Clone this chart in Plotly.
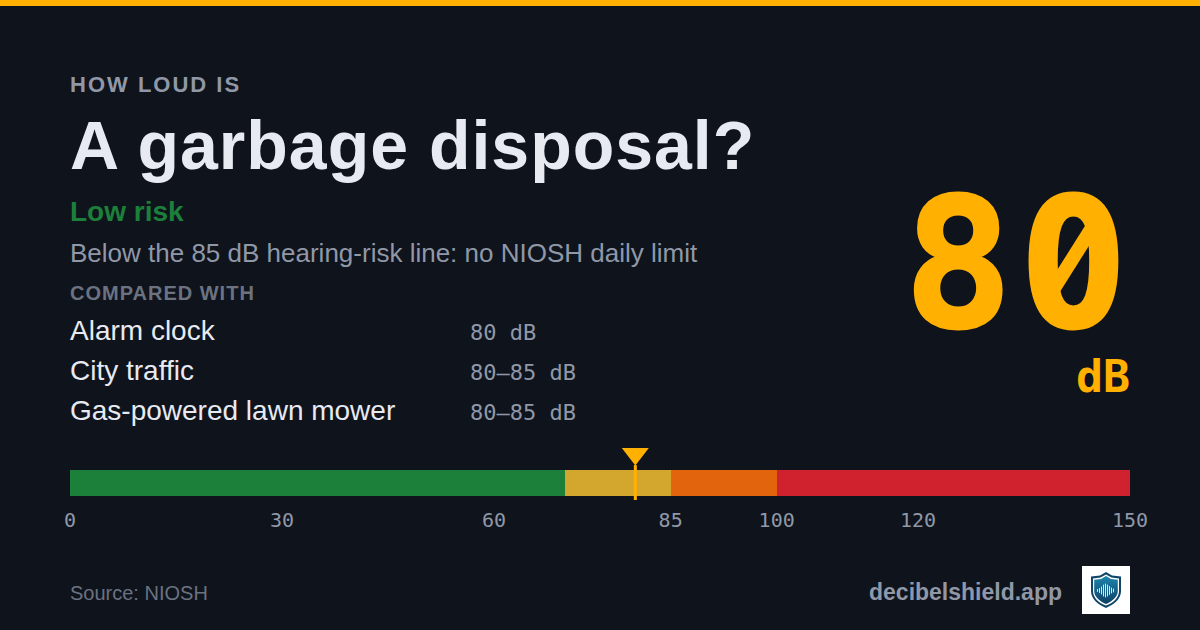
import base64

import plotly.graph_objects as go

# risk bands on the dB scale
band_names = ['Low', 'Moderate', 'High', 'Dangerous']
band_widths = [70, 15, 15, 50]
band_colors = ['#1c7f3a', '#d3a62d', '#e2640c', '#cf222e']

tick_vals = [0, 30, 60, 85, 100, 120, 150]
tick_text = ['0', '30', '60', '85', '100', '120', '150']

measured_db = 80

compare_names = ['Alarm clock', 'City traffic', 'Gas-powered lawn mower']
compare_vals = ['80 dB', '80–85 dB', '80–85 dB']

BG = '#0f131c'
AMBER = '#ffb000'
GREY = '#9098a8'
SANS = 'Liberation Sans'
MONO = 'DejaVu Sans Mono'

W, H = 1200, 630
LEFT, RIGHT, TOP, BOTTOM = 70, 1130, 444, 500


def px(x):
    return (x - LEFT) / (RIGHT - LEFT)


def py(y):
    return (BOTTOM - y) / (BOTTOM - TOP)


def label(x, y, text, size, color, font=SANS, bold=False, anchor='left'):
    return dict(x=px(x), y=py(y), xref='paper', yref='paper', text=f'<b>{text}</b>' if bold else text,
                showarrow=False, xanchor=anchor, yanchor='middle', borderpad=0, borderwidth=0,
                font=dict(family=font, size=size, color=color))


fig = go.Figure()

for name, width, color in zip(band_names, band_widths, band_colors):
    fig.add_trace(go.Bar(x=[width], y=[0.5], name=name, orientation='h', width=1,
                         marker=dict(color=color, line=dict(width=0)), hoverinfo='skip'))

# needle through the bar and the triangle above it
fig.add_trace(go.Scatter(x=[measured_db, measured_db], y=[-0.154, 1.19], mode='lines',
                         line=dict(color=AMBER, width=3), hoverinfo='skip'))
fig.add_trace(go.Scatter(x=[measured_db], y=[1.62], mode='markers', cliponaxis=False,
                         marker=dict(symbol='triangle-down', size=23.4, color=AMBER, line=dict(width=0)),
                         hoverinfo='skip'))

annotations = [
    label(70, 84, 'HOW LOUD IS', 22, GREY, bold=True),
    label(70, 145, 'A garbage disposal?', 68, '#e8eaf2', bold=True),
    label(70, 212, 'Low risk', 28, '#1c7f3a', bold=True),
    label(70, 253, 'Below the 85 dB hearing-risk line: no NIOSH daily limit', 26, GREY),
    label(70, 293, 'COMPARED WITH', 20, '#6b7280', bold=True),
    label(1135, 263, str(measured_db), 180, AMBER, font=MONO, bold=True, anchor='right'),
    label(1130, 376, 'dB', 45, AMBER, font=MONO, bold=True, anchor='right'),
    label(70, 593, 'Source: NIOSH', 20, '#6b7280'),
    label(1062, 592, 'decibelshield.app', 23, GREY, bold=True, anchor='right'),
]
for i, (name, val) in enumerate(zip(compare_names, compare_vals)):
    row_y = 330 + i * 40
    annotations.append(label(70, row_y, name, 28, '#e8eaf2'))
    annotations.append(label(470, row_y + 2, val, 22, GREY, font=MONO))

logo_svg = '''<svg xmlns="http://www.w3.org/2000/svg" width="96" height="96" viewBox="0 0 48 48">
<defs><linearGradient id="g" x1="0" y1="0" x2="0" y2="1">
<stop offset="0" stop-color="#1f86ad"/><stop offset="1" stop-color="#0c3f66"/></linearGradient></defs>
<rect width="48" height="48" fill="#ffffff"/>
<path d="M24 6 L30 9.5 L39 10.5 L39 25 C39 33 32 38.5 24 42 C16 38.5 9 33 9 25 L9 10.5 L18 9.5 Z" fill="#0f4668"/>
<path d="M24 8.5 L29.5 11.5 L37 12.5 L37 25 C37 32 31 37 24 39.5 C17 37 11 32 11 25 L11 12.5 L18.5 11.5 Z" fill="#ffffff"/>
<path d="M24 10 L29 13 L35.8 13.8 L35.8 25 C35.8 31 30 35.5 24 38 C18 35.5 12.2 31 12.2 25 L12.2 13.8 L19 13 Z" fill="url(#g)"/>
<g stroke="#d5e8f0" stroke-width="1" stroke-linecap="round">
<path d="M15.5 23.5v2M17.5 22.5v4M19.5 21v7M21.5 19v11M23.5 18v13M25.5 19v11M27.5 20.5v8M29.5 22v5M31.5 23v3"/>
</g></svg>'''
logo_uri = 'data:image/svg+xml;base64,' + base64.b64encode(logo_svg.encode()).decode()

fig.update_layout(
    width=W, height=H,
    barmode='stack',
    showlegend=False,
    paper_bgcolor=BG,
    plot_bgcolor=BG,
    hovermode=False,
    margin=dict(l=LEFT, r=W - RIGHT, t=TOP, b=H - BOTTOM, autoexpand=False),
    xaxis=dict(range=[0, 150], tickmode='array', tickvals=tick_vals, ticktext=tick_text, ticks='',
               showgrid=False, zeroline=False, showline=False, ticklabelstandoff=6,
               tickfont=dict(family=MONO, size=20, color=GREY), fixedrange=True),
    yaxis=dict(range=[-0.154, 2], visible=False, fixedrange=True),
    annotations=annotations,
    shapes=[dict(type='rect', xref='paper', yref='paper', x0=px(0), x1=px(W), y0=py(0), y1=py(6),
                 fillcolor=AMBER, line=dict(width=0), layer='above')],
    images=[dict(source=logo_uri, xref='paper', yref='paper', x=px(1082), y=py(566),
                 sizex=px(1130) - px(1082), sizey=py(566) - py(614), xanchor='left', yanchor='top',
                 sizing='stretch', layer='above')],
)

# letter spacing is not a plotly font option, so set it on the drawn text: [annotation index, px, keep right edge]
# the big zero is dotted in DejaVu, the reference has it slashed, so the dot gets painted over
post_script = '''
document.documentElement.style.overflow = 'hidden';
document.body.style.margin = '0';
document.body.style.background = '%s';
[[0, 2, false], [1, 1, false], [4, 1, false], [5, 7, true]].forEach(function (s) {
    var t = document.querySelector('.annotation[data-index="' + s[0] + '"] text');
    var before = t.getBBox();
    t.style.letterSpacing = s[1] + 'px';
    var after = t.getBBox();
    var shift = s[2] ? (before.x + before.width) - (after.x + after.width) : before.x - after.x;
    t.setAttribute('x', parseFloat(t.getAttribute('x')) + shift);
});
var big = document.querySelector('.annotation[data-index="5"] text');
big.style.stroke = '%s';
big.style.strokeWidth = '3px';
var info = document.querySelector('.infolayer');
var NS = 'http://www.w3.org/2000/svg';
var dot = document.createElementNS(NS, 'ellipse');
dot.setAttribute('cx', 1073); dot.setAttribute('cy', 261);
dot.setAttribute('rx', 15); dot.setAttribute('ry', 18);
dot.setAttribute('fill', '%s');
info.appendChild(dot);
var slash = document.createElementNS(NS, 'path');
slash.setAttribute('d', 'M1044 304 L1102 212');
slash.setAttribute('stroke', '%s'); slash.setAttribute('stroke-width', 14);
info.appendChild(slash);
''' % (BG, AMBER, BG, AMBER)

fig.write_html('out.html', config=dict(displayModeBar=False), post_script=post_script)
